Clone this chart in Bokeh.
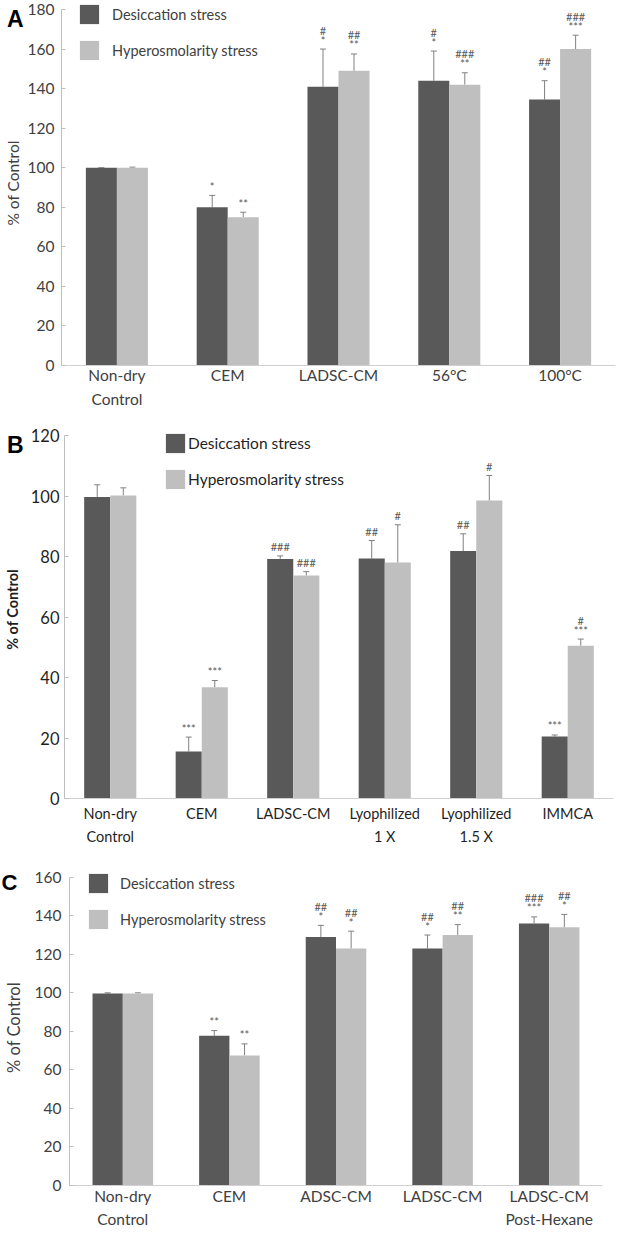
from bokeh.plotting import figure
from bokeh.models import (FactorRange, ColumnDataSource, Whisker, TeeHead, Legend,
                          LegendItem, FixedTicker, LinearAxis)
from bokeh.transform import dodge
from bokeh.embed import file_html
from bokeh.resources import INLINE
from bokeh.core.properties import value

# ---------------- data ----------------
cats_a = ["Non-dry\nControl", "CEM", "LADSC-CM", "56°C", "100°C"]
desic_a = [100, 80, 141, 144, 134.5]
desic_a_err = [0, 6, 19, 15, 9.5]
hyper_a = [100, 75, 149, 142, 160]
hyper_a_err = [0.3, 2.5, 8.5, 6, 7]
desic_a_sig1 = ["", "*", "*", "*", "*"]
desic_a_sig2 = ["", "", "#", "#", "##"]
hyper_a_sig1 = ["", "**", "**", "**", "***"]
hyper_a_sig2 = ["", "", "##", "###", "###"]

cats_b = ["Non-dry\nControl", "CEM", "LADSC-CM", "Lyophilized\n1 X", "Lyophilized\n1.5 X", "IMMCA"]
desic_b = [99.7, 15.5, 79.2, 79.3, 81.8, 20.5]
desic_b_err = [4, 4.8, 1, 6, 5.7, 0.5]
hyper_b = [100.2, 36.8, 73.7, 78, 98.5, 50.5]
hyper_b_err = [2.5, 2.2, 1.3, 12.5, 8.3, 2.2]
desic_b_sig1 = ["", "***", "###", "##", "##", "***"]
desic_b_sig2 = ["", "", "", "", "", ""]
hyper_b_sig1 = ["", "***", "###", "#", "#", "***"]
hyper_b_sig2 = ["", "", "", "", "", "#"]

cats_c = ["Non-dry\nControl", "CEM", "ADSC-CM", "LADSC-CM", "LADSC-CM\nPost-Hexane"]
desic_c = [99.7, 77.7, 129, 123, 136]
desic_c_err = [0.3, 2.7, 6, 7, 3.4]
hyper_c = [99.7, 67.5, 123, 130, 134]
hyper_c_err = [0.3, 6, 9, 5.4, 6.7]
desic_c_sig1 = ["", "**", "*", "*", "***"]
desic_c_sig2 = ["", "", "##", "##", "###"]
hyper_c_sig1 = ["", "**", "*", "**", "*"]
hyper_c_sig2 = ["", "", "##", "##", "##"]

series_names = ["Desiccation stress", "Hyperosmolarity stress"]
y_label = "% of Control"

DARK = "#595959"
LIGHT = "#bfbfbf"
ERR = "#808080"
FONT = "Lato"


def panel(letter, cats, d, de, h, he, d1, d2, h1, h2, ymax, cfg):
    p = figure(x_range=FactorRange(factors=cats, range_padding=0),
               y_range=(0, cfg["yend"]), width=621, height=cfg["height"],
               output_backend="svg", toolbar_location=None,
               min_border_left=cfg["bl"], min_border_right=cfg["br"],
               min_border_top=cfg["bt"], min_border_bottom=cfg["bb"])
    p.outline_line_color = None
    p.grid.visible = False
    p.background_fill_color = "white"

    src = ColumnDataSource(dict(cat=cats, d=d, h=h,
                                dup=[a + b for a, b in zip(d, de)],
                                hup=[a + b for a, b in zip(h, he)],
                                d1=d1, d2=d2, h1=h1, h2=h2))
    w = cfg["bw"]
    xd = dodge("cat", -w / 2, range=p.x_range)
    xh = dodge("cat", w / 2, range=p.x_range)
    r1 = p.vbar(x=xd, top="d", width=w, source=src, fill_color=DARK, line_color=None)
    r2 = p.vbar(x=xh, top="h", width=w, source=src, fill_color=LIGHT, line_color=None)

    for xx, lo, up in ((xd, "d", "dup"), (xh, "h", "hup")):
        wk = Whisker(base=xx, lower=lo, upper=up, source=src, line_color=ERR,
                     line_width=1, lower_head=None,
                     upper_head=TeeHead(size=6, line_color=ERR, line_width=1))
        p.add_layout(wk)

    for xx, up, t1, t2 in ((xd, "dup", "d1", "d2"), (xh, "hup", "h1", "h2")):
        for t, off in ((t1, -9), (t2, -19)):
            p.text(x=xx, y=up, text=t, source=src, text_align="center",
                   text_baseline="middle", y_offset=off, text_font=value(FONT),
                   text_font_size="11px", text_color="#595959")

    # inner (value) axis
    ya = p.yaxis[0]
    ya.ticker = FixedTicker(ticks=list(range(0, ymax + 1, 20)))
    ya.bounds = (0, ymax)
    ya.axis_line_color = "#bfbfbf"
    ya.major_tick_line_color = "#bfbfbf"
    ya.major_tick_in = 4
    ya.major_tick_out = 0
    ya.minor_tick_line_color = None
    ya.minor_tick_in = 0
    ya.minor_tick_out = 0
    ya.major_label_text_font = FONT
    ya.major_label_text_font_size = cfg["tick_fs"]
    ya.major_label_text_color = cfg["tc"]
    ya.major_label_standoff = cfg["s1"]

    # outer axis: panel letter + axis title
    oa = LinearAxis(ticker=FixedTicker(ticks=[cfg["let_y"]]),
                    major_label_overrides={cfg["let_y"]: letter})
    oa.axis_line_color = None
    oa.major_tick_line_color = None
    oa.minor_tick_line_color = None
    oa.major_tick_in = 0
    oa.major_tick_out = 0
    oa.minor_tick_in = 0
    oa.minor_tick_out = 0
    oa.major_label_text_font = "Liberation Sans"
    oa.major_label_text_font_style = "bold"
    oa.major_label_text_font_size = cfg["let_fs"]
    oa.major_label_text_color = "black"
    oa.major_label_standoff = cfg["s_let"]
    oa.axis_label = y_label
    oa.axis_label_text_font = FONT
    oa.axis_label_text_font_size = cfg["yl_fs"]
    oa.axis_label_text_font_style = cfg["yl_style"]
    oa.axis_label_text_color = cfg["tc"]
    oa.axis_label_standoff = cfg["s2"]
    p.add_layout(oa, "left")

    if cfg["pad"] > 0:
        # blank spacer axis (no ticks, no labels) to keep the title off the edge
        sp = LinearAxis(ticker=FixedTicker(ticks=[]))
        sp.axis_line_color = None
        sp.major_tick_line_color = None
        sp.minor_tick_line_color = None
        sp.major_tick_in = 0
        sp.major_tick_out = cfg["pad"]
        sp.minor_tick_in = 0
        sp.minor_tick_out = 0
        sp.major_label_standoff = 0
        p.add_layout(sp, "left")

    xa = p.xaxis[0]
    xa.axis_line_color = "#d0d0d0"
    xa.major_tick_line_color = None
    xa.minor_tick_line_color = None
    xa.major_tick_in = 0
    xa.major_tick_out = 0
    xa.major_label_text_font = FONT
    xa.major_label_text_font_size = cfg["xl_fs"]
    xa.major_label_text_color = cfg["tc"]
    xa.major_label_standoff = cfg["xs"]
    xa.major_label_text_line_height = cfg["lh"]

    legend = Legend(items=[LegendItem(label=series_names[0], renderers=[r1]),
                           LegendItem(label=series_names[1], renderers=[r2])],
                    location=cfg["leg"], glyph_width=24, glyph_height=24,
                    spacing=12, label_standoff=cfg["lstand"], padding=0, margin=0,
                    border_line_color=None, background_fill_alpha=0,
                    label_text_font=FONT, label_text_font_size=cfg["leg_fs"],
                    label_text_color=cfg["tc"])
    p.add_layout(legend)
    return p


cfg_a = dict(height=414, yend=184.55, bl=52, br=6, bt=0, bb=49, bw=0.28,
             tick_fs="15.5px", tc="#404040", s1=7,
             let_y=175, let_fs="23px", s_let=1, pad=0,
             yl_fs="15.5px", yl_style="normal", s2=-18,
             xl_fs="15.5px", xs=0, lh=1.35, leg=(16, 303), lstand=11,
             leg_fs="14.5px")
cfg_b = dict(height=433, yend=124.96, bl=55, br=8, bt=6, bb=49, bw=0.285,
             tick_fs="16.5px", tc="#1f1f1f", s1=5,
             let_y=117, let_fs="23px", s_let=4, pad=0,
             yl_fs="14.5px", yl_style="bold", s2=-17,
             xl_fs="14.5px", xs=6, lh=1.38, leg=(99, 307), lstand=1,
             leg_fs="15.5px")
cfg_c = dict(height=384, yend=164.0, bl=65, br=19, bt=22, bb=46, bw=0.284,
             tick_fs="15.5px", tc="#404040", s1=8,
             let_y=157, let_fs="22px", s_let=14, pad=5,
             yl_fs="16.5px", yl_style="normal", s2=-25,
             xl_fs="15.5px", xs=1, lh=1.3, leg=(17, 254), lstand=10,
             leg_fs="14.5px")

pa = panel("A", cats_a, desic_a, desic_a_err, hyper_a, hyper_a_err,
           desic_a_sig1, desic_a_sig2, hyper_a_sig1, hyper_a_sig2, 180, cfg_a)
pb = panel("B", cats_b, desic_b, desic_b_err, hyper_b, hyper_b_err,
           desic_b_sig1, desic_b_sig2, hyper_b_sig1, hyper_b_sig2, 120, cfg_b)
pc = panel("C", cats_c, desic_c, desic_c_err, hyper_c, hyper_c_err,
           desic_c_sig1, desic_c_sig2, hyper_c_sig1, hyper_c_sig2, 160, cfg_c)

open("out.html", "w").write(file_html([pa, pb, pc], INLINE))
